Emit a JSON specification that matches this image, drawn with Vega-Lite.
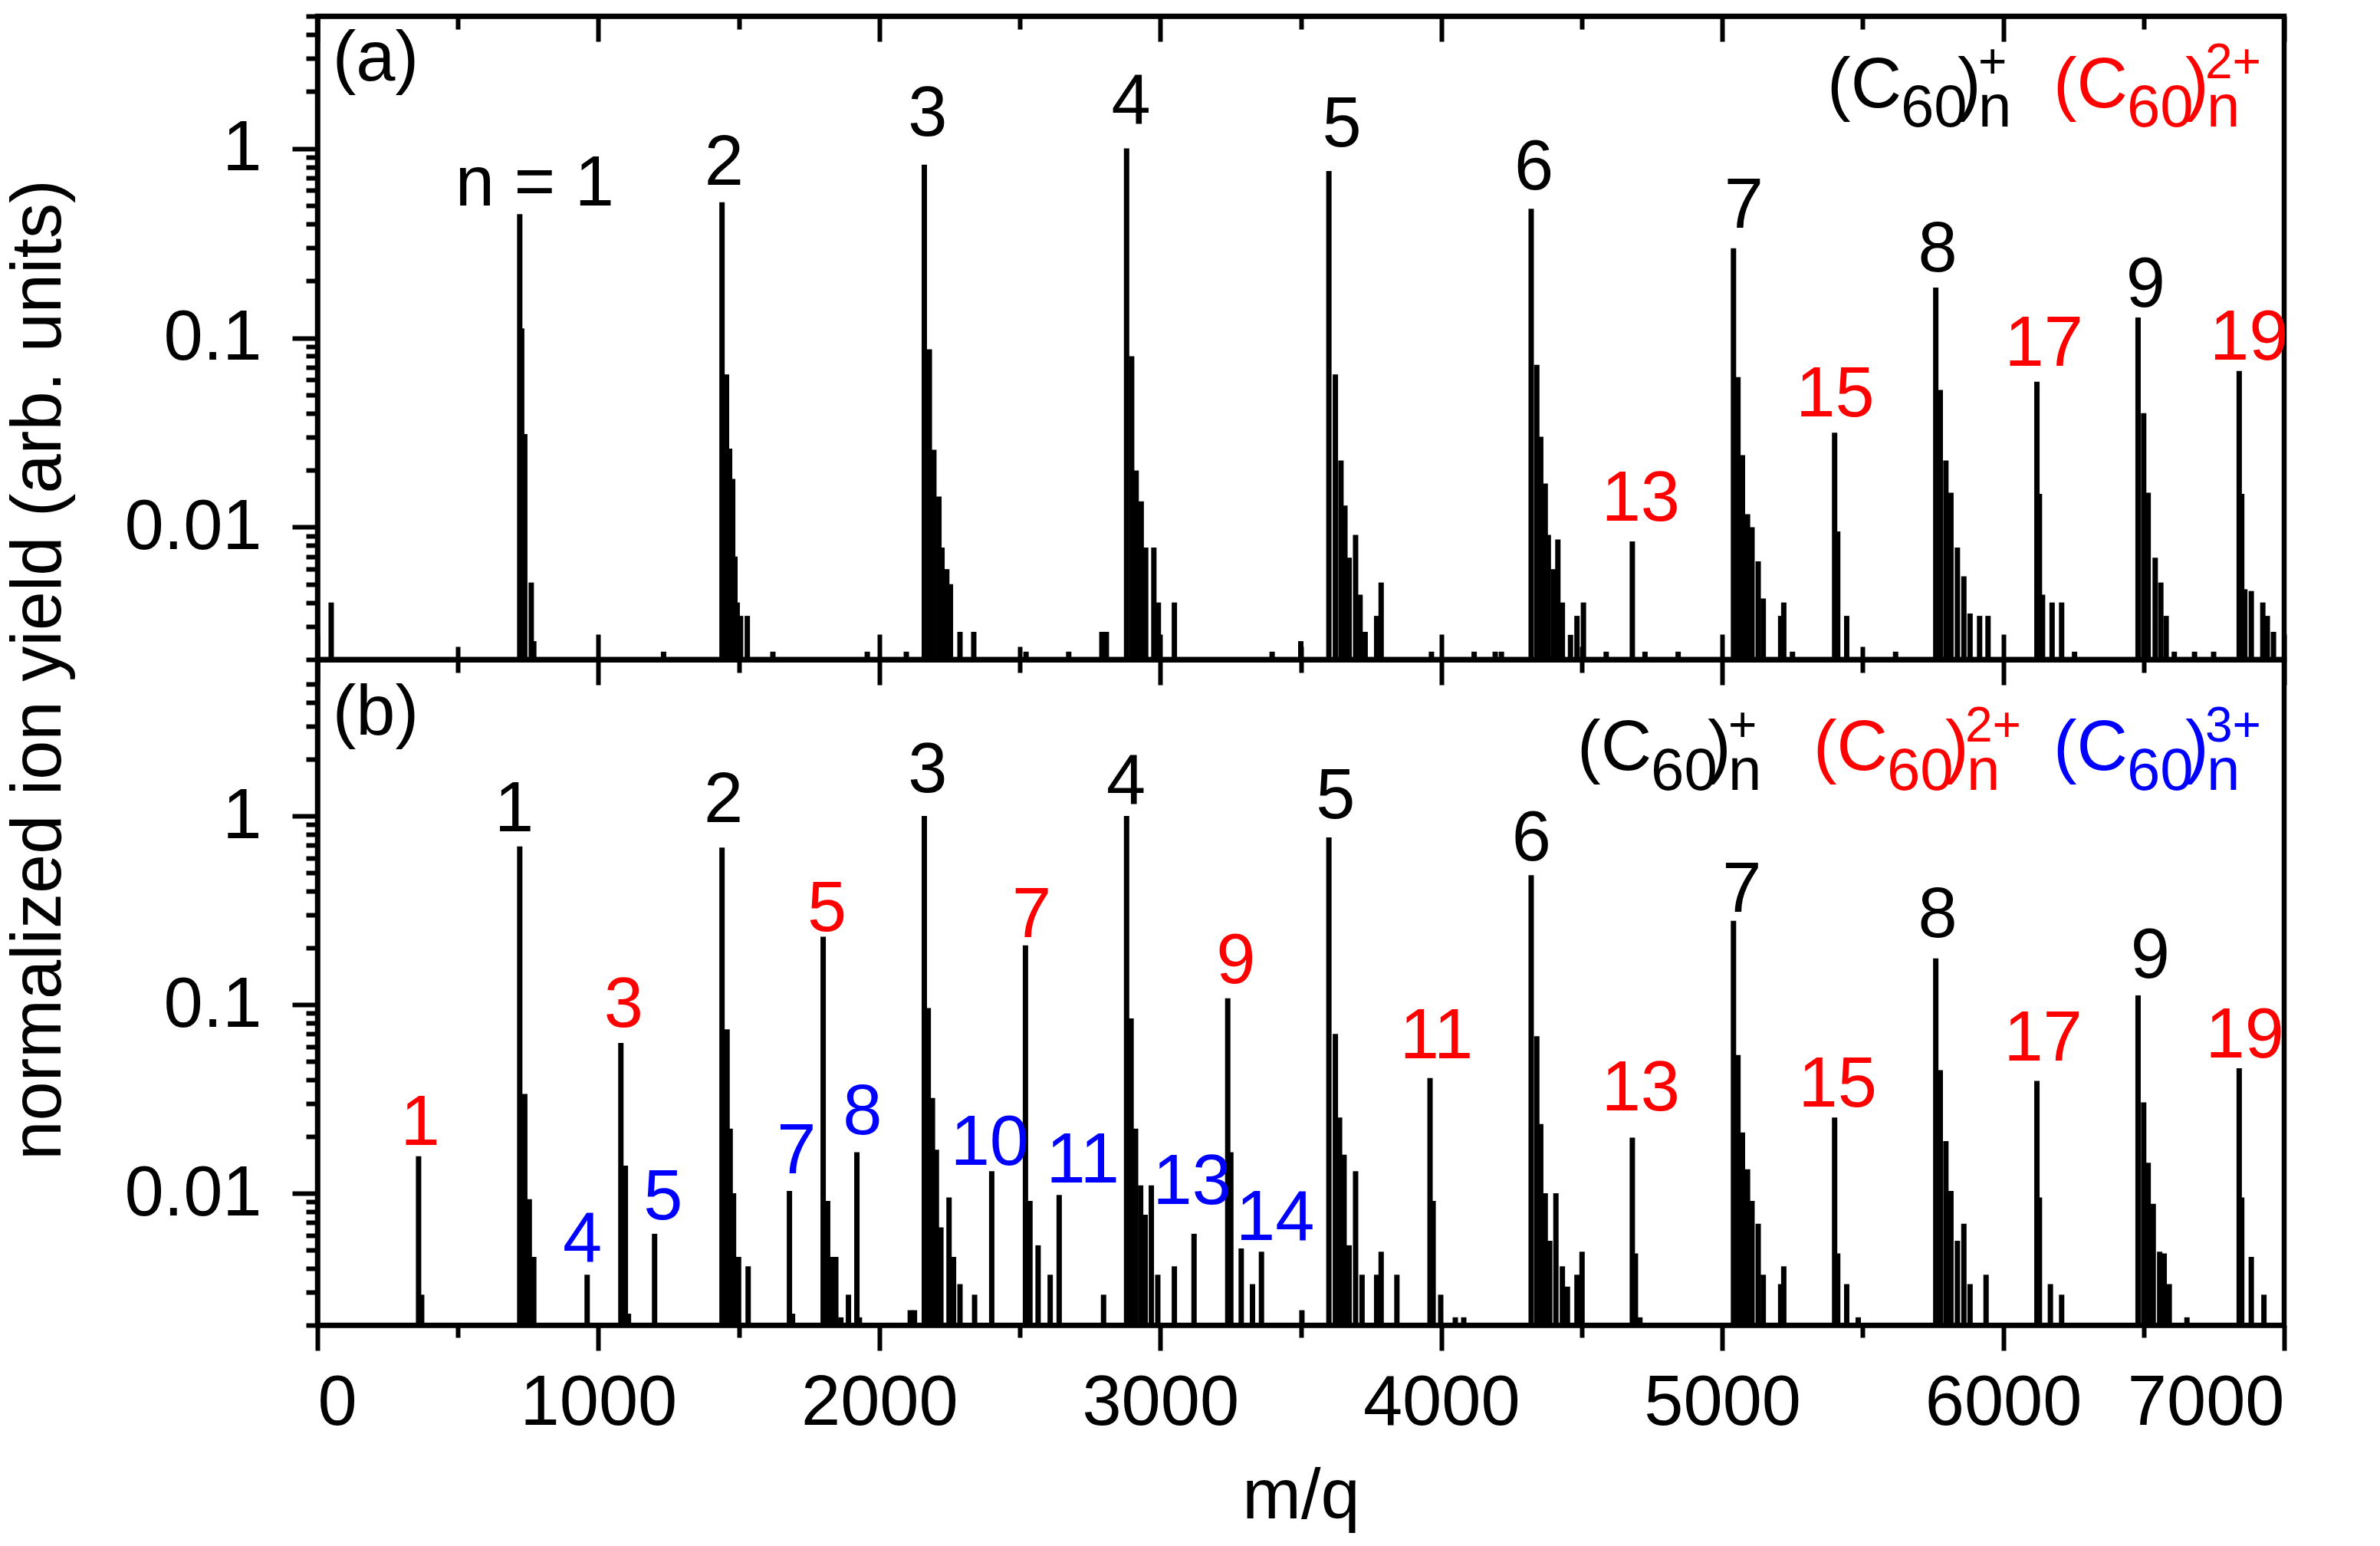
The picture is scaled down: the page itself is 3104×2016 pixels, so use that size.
{
  "$schema": "https://vega.github.io/schema/vega-lite/v6.json",
  "background": "white",
  "padding": {"left": 0, "top": 14, "right": 10, "bottom": 0},
  "spacing": 0,
  "bounds": "flush",
  "config": {
    "font": "Liberation Sans",
    "view": {"stroke": "black", "strokeWidth": 6.5},
    "axis": {
      "grid": false,
      "domainColor": "black",
      "domainWidth": 6.5,
      "tickColor": "black",
      "tickWidth": 6,
      "labelFont": "Liberation Sans",
      "labelFontSize": 92,
      "labelColor": "black",
      "labelLimit": 0,
      "titleFont": "Liberation Sans",
      "titleFontSize": 92,
      "titleFontWeight": "normal",
      "titleColor": "black",
      "titleLimit": 0
    }
  },
  "datasets": {
    "spec_a": [
      {"mz": 49, "y": 0.004},
      {"mz": 720, "y": 0.45}, {"mz": 727, "y": 0.112}, {"mz": 738, "y": 0.031}, {"mz": 761, "y": 0.0051}, {"mz": 770, "y": 0.0025},
      {"mz": 1232, "y": 0.0022},
      {"mz": 1440, "y": 0.52}, {"mz": 1456, "y": 0.064}, {"mz": 1467, "y": 0.026}, {"mz": 1478, "y": 0.018}, {"mz": 1486, "y": 0.007}, {"mz": 1494, "y": 0.004}, {"mz": 1506, "y": 0.0034}, {"mz": 1530, "y": 0.0034}, {"mz": 1621, "y": 0.0022},
      {"mz": 1957, "y": 0.0022}, {"mz": 2096, "y": 0.0022},
      {"mz": 2160, "y": 0.82}, {"mz": 2178, "y": 0.087}, {"mz": 2194, "y": 0.0256}, {"mz": 2212, "y": 0.0145}, {"mz": 2223, "y": 0.0078}, {"mz": 2240, "y": 0.006}, {"mz": 2253, "y": 0.005}, {"mz": 2287, "y": 0.0028}, {"mz": 2336, "y": 0.0028},
      {"mz": 2522, "y": 0.0022}, {"mz": 2674, "y": 0.0022}, {"mz": 2792, "y": 0.0028}, {"mz": 2808, "y": 0.0028},
      {"mz": 2880, "y": 1.0}, {"mz": 2898, "y": 0.08}, {"mz": 2914, "y": 0.0199}, {"mz": 2932, "y": 0.0137}, {"mz": 2948, "y": 0.0078}, {"mz": 2977, "y": 0.0078}, {"mz": 2993, "y": 0.004}, {"mz": 3050, "y": 0.004},
      {"mz": 3398, "y": 0.0022}, {"mz": 3500, "y": 0.0025},
      {"mz": 3600, "y": 0.76}, {"mz": 3623, "y": 0.064}, {"mz": 3643, "y": 0.0225}, {"mz": 3657, "y": 0.013}, {"mz": 3672, "y": 0.0069}, {"mz": 3695, "y": 0.0091}, {"mz": 3711, "y": 0.0044}, {"mz": 3729, "y": 0.0028}, {"mz": 3770, "y": 0.0034}, {"mz": 3786, "y": 0.0051},
      {"mz": 3965, "y": 0.0022}, {"mz": 4117, "y": 0.0022}, {"mz": 4192, "y": 0.0022}, {"mz": 4214, "y": 0.0022},
      {"mz": 4320, "y": 0.48}, {"mz": 4340, "y": 0.072}, {"mz": 4354, "y": 0.03}, {"mz": 4370, "y": 0.017}, {"mz": 4381, "y": 0.0091}, {"mz": 4399, "y": 0.006}, {"mz": 4415, "y": 0.0086}, {"mz": 4431, "y": 0.004}, {"mz": 4460, "y": 0.0027}, {"mz": 4483, "y": 0.0034}, {"mz": 4506, "y": 0.004},
      {"mz": 4587, "y": 0.0022}, {"mz": 4680, "y": 0.0084}, {"mz": 4725, "y": 0.0022}, {"mz": 4843, "y": 0.0022},
      {"mz": 5040, "y": 0.297}, {"mz": 5056, "y": 0.062}, {"mz": 5072, "y": 0.024}, {"mz": 5090, "y": 0.0117}, {"mz": 5106, "y": 0.01}, {"mz": 5128, "y": 0.0066}, {"mz": 5146, "y": 0.0042}, {"mz": 5208, "y": 0.0034}, {"mz": 5219, "y": 0.004}, {"mz": 5250, "y": 0.0022},
      {"mz": 5400, "y": 0.0315}, {"mz": 5411, "y": 0.0095}, {"mz": 5443, "y": 0.0034}, {"mz": 5617, "y": 0.0022},
      {"mz": 5760, "y": 0.184}, {"mz": 5776, "y": 0.053}, {"mz": 5796, "y": 0.0225}, {"mz": 5814, "y": 0.0152}, {"mz": 5837, "y": 0.0078}, {"mz": 5860, "y": 0.0055}, {"mz": 5882, "y": 0.0035}, {"mz": 5916, "y": 0.0034}, {"mz": 5946, "y": 0.0034},
      {"mz": 6120, "y": 0.0587}, {"mz": 6129, "y": 0.015}, {"mz": 6140, "y": 0.0044}, {"mz": 6174, "y": 0.004}, {"mz": 6208, "y": 0.004}, {"mz": 6254, "y": 0.0022},
      {"mz": 6480, "y": 0.128}, {"mz": 6500, "y": 0.04}, {"mz": 6516, "y": 0.0152}, {"mz": 6541, "y": 0.0069}, {"mz": 6561, "y": 0.0051}, {"mz": 6580, "y": 0.0034}, {"mz": 6609, "y": 0.0022}, {"mz": 6681, "y": 0.0022}, {"mz": 6749, "y": 0.0022},
      {"mz": 6840, "y": 0.0668}, {"mz": 6849, "y": 0.015}, {"mz": 6860, "y": 0.0047}, {"mz": 6883, "y": 0.0046}, {"mz": 6924, "y": 0.004}, {"mz": 6940, "y": 0.0034}, {"mz": 6962, "y": 0.0028}
    ],
    "spec_b": [
      {"mz": 360, "y": 0.0157}, {"mz": 371, "y": 0.0029},
      {"mz": 720, "y": 0.69}, {"mz": 738, "y": 0.0336}, {"mz": 754, "y": 0.0093}, {"mz": 770, "y": 0.0046},
      {"mz": 960, "y": 0.0037},
      {"mz": 1080, "y": 0.0626}, {"mz": 1096, "y": 0.014}, {"mz": 1107, "y": 0.0023},
      {"mz": 1200, "y": 0.0061},
      {"mz": 1440, "y": 0.68}, {"mz": 1458, "y": 0.074}, {"mz": 1469, "y": 0.022}, {"mz": 1481, "y": 0.01}, {"mz": 1499, "y": 0.0046}, {"mz": 1533, "y": 0.0041},
      {"mz": 1680, "y": 0.0103}, {"mz": 1691, "y": 0.0023},
      {"mz": 1800, "y": 0.229}, {"mz": 1816, "y": 0.0091}, {"mz": 1829, "y": 0.0046}, {"mz": 1845, "y": 0.0046}, {"mz": 1863, "y": 0.0022}, {"mz": 1890, "y": 0.0029},
      {"mz": 1920, "y": 0.0165}, {"mz": 1929, "y": 0.0022},
      {"mz": 2110, "y": 0.0024}, {"mz": 2125, "y": 0.0024},
      {"mz": 2160, "y": 1.0}, {"mz": 2174, "y": 0.096}, {"mz": 2189, "y": 0.032}, {"mz": 2203, "y": 0.017}, {"mz": 2219, "y": 0.0066}, {"mz": 2248, "y": 0.0095}, {"mz": 2264, "y": 0.0046}, {"mz": 2287, "y": 0.0033}, {"mz": 2339, "y": 0.0029},
      {"mz": 2400, "y": 0.0131},
      {"mz": 2520, "y": 0.206}, {"mz": 2536, "y": 0.0091}, {"mz": 2565, "y": 0.0053}, {"mz": 2608, "y": 0.0037},
      {"mz": 2640, "y": 0.0098},
      {"mz": 2798, "y": 0.0029},
      {"mz": 2880, "y": 1.0}, {"mz": 2896, "y": 0.0845}, {"mz": 2912, "y": 0.022}, {"mz": 2930, "y": 0.011}, {"mz": 2946, "y": 0.0077}, {"mz": 2968, "y": 0.011}, {"mz": 2991, "y": 0.0037}, {"mz": 3050, "y": 0.0041},
      {"mz": 3120, "y": 0.0061},
      {"mz": 3240, "y": 0.108}, {"mz": 3251, "y": 0.0165}, {"mz": 3288, "y": 0.0051}, {"mz": 3328, "y": 0.0033},
      {"mz": 3360, "y": 0.0049},
      {"mz": 3504, "y": 0.0024},
      {"mz": 3600, "y": 0.77}, {"mz": 3623, "y": 0.07}, {"mz": 3638, "y": 0.0252}, {"mz": 3654, "y": 0.016}, {"mz": 3672, "y": 0.0053}, {"mz": 3695, "y": 0.0131}, {"mz": 3718, "y": 0.0037}, {"mz": 3770, "y": 0.0037}, {"mz": 3786, "y": 0.0049}, {"mz": 3842, "y": 0.0037},
      {"mz": 3960, "y": 0.0408}, {"mz": 3971, "y": 0.0091}, {"mz": 3998, "y": 0.0029}, {"mz": 4050, "y": 0.0022}, {"mz": 4080, "y": 0.0022},
      {"mz": 4320, "y": 0.485}, {"mz": 4340, "y": 0.068}, {"mz": 4354, "y": 0.0233}, {"mz": 4370, "y": 0.01}, {"mz": 4386, "y": 0.0056}, {"mz": 4408, "y": 0.01}, {"mz": 4431, "y": 0.0041}, {"mz": 4449, "y": 0.0032}, {"mz": 4483, "y": 0.0037}, {"mz": 4501, "y": 0.0049},
      {"mz": 4680, "y": 0.0197}, {"mz": 4691, "y": 0.0048}, {"mz": 4707, "y": 0.0022},
      {"mz": 5040, "y": 0.278}, {"mz": 5056, "y": 0.054}, {"mz": 5072, "y": 0.021}, {"mz": 5090, "y": 0.0134}, {"mz": 5106, "y": 0.0091}, {"mz": 5128, "y": 0.0069}, {"mz": 5146, "y": 0.0037}, {"mz": 5208, "y": 0.0033}, {"mz": 5219, "y": 0.0041},
      {"mz": 5400, "y": 0.0252}, {"mz": 5411, "y": 0.0048}, {"mz": 5443, "y": 0.0033}, {"mz": 5484, "y": 0.0022},
      {"mz": 5760, "y": 0.176}, {"mz": 5776, "y": 0.0449}, {"mz": 5796, "y": 0.0189}, {"mz": 5814, "y": 0.0103}, {"mz": 5837, "y": 0.0056}, {"mz": 5860, "y": 0.0069}, {"mz": 5882, "y": 0.0033}, {"mz": 5939, "y": 0.0037},
      {"mz": 6120, "y": 0.0394}, {"mz": 6129, "y": 0.0095}, {"mz": 6168, "y": 0.0033}, {"mz": 6208, "y": 0.0029},
      {"mz": 6480, "y": 0.112}, {"mz": 6500, "y": 0.0303}, {"mz": 6516, "y": 0.0145}, {"mz": 6534, "y": 0.0088}, {"mz": 6557, "y": 0.0049}, {"mz": 6573, "y": 0.0048}, {"mz": 6591, "y": 0.0033}, {"mz": 6654, "y": 0.0022},
      {"mz": 6840, "y": 0.046}, {"mz": 6849, "y": 0.0095}, {"mz": 6883, "y": 0.0046}, {"mz": 6928, "y": 0.0029}
    ],
    "ann_a": [
      {"mz": 207, "y": 2.293, "t": "(a)", "charge": "1"},
      {"mz": 773, "y": 0.50, "t": "n = 1", "charge": "1"},
      {"mz": 1447, "y": 0.64, "t": "2", "charge": "1"},
      {"mz": 2172, "y": 1.164, "t": "3", "charge": "1"},
      {"mz": 2896, "y": 1.36, "t": "4", "charge": "1"},
      {"mz": 3646, "y": 1.02, "t": "5", "charge": "1"},
      {"mz": 4330, "y": 0.608, "t": "6", "charge": "1"},
      {"mz": 4710, "y": 0.01084, "t": "13", "charge": "2"},
      {"mz": 5077, "y": 0.381, "t": "7", "charge": "1"},
      {"mz": 5402, "y": 0.0384, "t": "15", "charge": "2"},
      {"mz": 5767, "y": 0.2243, "t": "8", "charge": "1"},
      {"mz": 6145, "y": 0.0711, "t": "17", "charge": "2"},
      {"mz": 6507, "y": 0.1457, "t": "9", "charge": "1"},
      {"mz": 6875, "y": 0.0769, "t": "19", "charge": "2"}
    ],
    "ann_b": [
      {"mz": 207, "y": 2.702, "t": "(b)", "charge": "1"},
      {"mz": 366, "y": 0.01808, "t": "1", "charge": "2"},
      {"mz": 700, "y": 0.8286, "t": "1", "charge": "1"},
      {"mz": 943, "y": 0.004335, "t": "4", "charge": "3"},
      {"mz": 1090, "y": 0.0759, "t": "3", "charge": "2"},
      {"mz": 1230, "y": 0.00726, "t": "5", "charge": "3"},
      {"mz": 1445, "y": 0.93, "t": "2", "charge": "1"},
      {"mz": 1705, "y": 0.01272, "t": "7", "charge": "3"},
      {"mz": 1814, "y": 0.245, "t": "5", "charge": "2"},
      {"mz": 1940, "y": 0.02064, "t": "8", "charge": "3"},
      {"mz": 2172, "y": 1.343, "t": "3", "charge": "1"},
      {"mz": 2393, "y": 0.01413, "t": "10", "charge": "3"},
      {"mz": 2542, "y": 0.2288, "t": "7", "charge": "2"},
      {"mz": 2724, "y": 0.01145, "t": "11", "charge": "3"},
      {"mz": 2878, "y": 1.166, "t": "4", "charge": "1"},
      {"mz": 3113, "y": 0.00881, "t": "13", "charge": "3"},
      {"mz": 3269, "y": 0.1303, "t": "9", "charge": "2"},
      {"mz": 3409, "y": 0.00563, "t": "14", "charge": "3"},
      {"mz": 3624, "y": 0.97, "t": "5", "charge": "1"},
      {"mz": 3983, "y": 0.052, "t": "11", "charge": "2"},
      {"mz": 4321, "y": 0.579, "t": "6", "charge": "1"},
      {"mz": 4710, "y": 0.02753, "t": "13", "charge": "2"},
      {"mz": 5070, "y": 0.3104, "t": "7", "charge": "1"},
      {"mz": 5411, "y": 0.0287, "t": "15", "charge": "2"},
      {"mz": 5767, "y": 0.2288, "t": "8", "charge": "1"},
      {"mz": 6142, "y": 0.0506, "t": "17", "charge": "2"},
      {"mz": 6523, "y": 0.139, "t": "9", "charge": "1"},
      {"mz": 6860, "y": 0.0526, "t": "19", "charge": "2"}
    ],
    "leg_a": [
      {"mz": 5373.5, "y": 1.649, "t": "(C", "charge": "1", "role": "main"},
      {"mz": 5635.4, "y": 1.3, "t": "60", "charge": "1", "role": "sub"},
      {"mz": 5837.4, "y": 1.649, "t": ")", "charge": "1", "role": "main"},
      {"mz": 5911.1, "y": 1.3, "t": "n", "charge": "1", "role": "sub"},
      {"mz": 5911.1, "y": 2.344, "t": "+", "charge": "1", "role": "sup"},
      {"mz": 6178.5, "y": 1.649, "t": "(C", "charge": "2", "role": "main"},
      {"mz": 6440.5, "y": 1.3, "t": "60", "charge": "2", "role": "sub"},
      {"mz": 6648.1, "y": 1.649, "t": ")", "charge": "2", "role": "main"},
      {"mz": 6724.3, "y": 1.3, "t": "n", "charge": "2", "role": "sub"},
      {"mz": 6718.9, "y": 2.344, "t": "2+", "charge": "2", "role": "sup"}
    ],
    "leg_b": [
      {"mz": 4483.8, "y": 1.746, "t": "(C", "charge": "1", "role": "main"},
      {"mz": 4745.8, "y": 1.381, "t": "60", "charge": "1", "role": "sub"},
      {"mz": 4947.7, "y": 1.746, "t": ")", "charge": "1", "role": "main"},
      {"mz": 5021.4, "y": 1.381, "t": "n", "charge": "1", "role": "sub"},
      {"mz": 5021.4, "y": 2.48, "t": "+", "charge": "1", "role": "sup"},
      {"mz": 5324.3, "y": 1.746, "t": "(C", "charge": "2", "role": "main"},
      {"mz": 5586.3, "y": 1.381, "t": "60", "charge": "2", "role": "sub"},
      {"mz": 5793.7, "y": 1.746, "t": ")", "charge": "2", "role": "main"},
      {"mz": 5870.1, "y": 1.381, "t": "n", "charge": "2", "role": "sub"},
      {"mz": 5864.7, "y": 2.48, "t": "2+", "charge": "2", "role": "sup"},
      {"mz": 6178.5, "y": 1.746, "t": "(C", "charge": "3", "role": "main"},
      {"mz": 6440.5, "y": 1.381, "t": "60", "charge": "3", "role": "sub"},
      {"mz": 6648.1, "y": 1.746, "t": ")", "charge": "3", "role": "main"},
      {"mz": 6724.3, "y": 1.381, "t": "n", "charge": "3", "role": "sub"},
      {"mz": 6718.9, "y": 2.48, "t": "3+", "charge": "3", "role": "sup"}
    ]
  },
  "vconcat": [
    {
      "width": 2565,
      "height": 839,
      "resolve": {"axis": {"x": "independent"}},
      "layer": [
        {
          "data": {"name": "spec_a"},
          "mark": {"type": "rule", "color": "black", "strokeWidth": 7, "clip": true},
          "encoding": {
            "x": {
              "field": "mz", "type": "quantitative",
              "scale": {"domain": [0, 7000], "nice": false, "zero": false},
              "axis": {
                "orient": "bottom", "title": null, "labels": false,
                "values": [0, 500, 1000, 1500, 2000, 2500, 3000, 3500, 4000, 4500, 5000, 5500, 6000, 6500, 7000],
                "tickSize": {"condition": {"test": "datum.value % 1000 === 0", "value": -33}, "value": -17}
              }
            },
            "y": {
              "field": "y", "type": "quantitative",
              "title": "normalized ion yield (arb. units)",
              "scale": {"type": "log", "domain": [0.002, 5], "nice": false},
              "axis": {
                "orient": "left",
                "values": [0.002, 0.003, 0.004, 0.005, 0.006, 0.007, 0.008, 0.009, 0.01, 0.02, 0.03, 0.04, 0.05, 0.06, 0.07, 0.08, 0.09, 0.1, 0.2, 0.3, 0.4, 0.5, 0.6, 0.7, 0.8, 0.9, 1, 2, 3, 4, 5],
                "labelExpr": "datum.value === 1 ? '1' : datum.value === 0.1 ? '0.1' : datum.value === 0.01 ? '0.01' : ''",
                "tickSize": {"condition": {"test": "datum.value === 1 || datum.value === 0.1 || datum.value === 0.01", "value": 33}, "value": 15},
                "labelPadding": 40,
                "labelAlign": "right",
                "labelBaseline": "middle",
                "titleAngle": 270,
                "titleX": -336,
                "titleY": 852,
                "titleAlign": "center",
                "titleBaseline": "alphabetic"
              }
            },
            "y2": {"datum": 0.002}
          }
        },
        {
          "data": {"name": "ann_a"},
          "mark": {"type": "text", "fontSize": 92, "align": "center", "baseline": "alphabetic", "font": "Liberation Sans"},
          "encoding": {
            "x": {
              "field": "mz", "type": "quantitative",
              "axis": {
                "orient": "top", "title": null, "labels": false,
                "values": [0, 500, 1000, 1500, 2000, 2500, 3000, 3500, 4000, 4500, 5000, 5500, 6000, 6500, 7000],
                "tickSize": {"condition": {"test": "datum.value % 1000 === 0", "value": -33}, "value": -17}
              }
            },
            "y": {"field": "y", "type": "quantitative", "title": "normalized ion yield (arb. units)"},
            "text": {"field": "t"},
            "color": {"field": "charge", "type": "nominal", "scale": {"domain": ["1", "2", "3"], "range": ["#000000", "#ff0000", "#0000ff"]}, "legend": null}
          }
        },
        {
          "data": {"name": "leg_a"},
          "mark": {"type": "text", "align": "left", "baseline": "alphabetic", "font": "Liberation Sans"},
          "encoding": {
            "x": {
              "field": "mz", "type": "quantitative",
              "axis": {"orient": "top", "title": null, "labels": false, "ticks": false, "domain": false}
            },
            "y": {"field": "y", "type": "quantitative", "title": "normalized ion yield (arb. units)"},
            "text": {"field": "t"},
            "size": {"field": "role", "type": "nominal", "scale": {"domain": ["main", "sub", "sup"], "range": [92, 64, 64]}, "legend": null},
            "color": {"field": "charge", "type": "nominal", "scale": {"domain": ["1", "2", "3"], "range": ["#000000", "#ff0000", "#0000ff"]}, "legend": null}
          }
        }
      ]
    },
    {
      "width": 2565,
      "height": 868,
      "resolve": {"axis": {"x": "independent"}},
      "layer": [
        {
          "data": {"name": "spec_b"},
          "mark": {"type": "rule", "color": "black", "strokeWidth": 7, "clip": true},
          "encoding": {
            "x": {
              "field": "mz", "type": "quantitative",
              "title": "m/q",
              "scale": {"domain": [0, 7000], "nice": false, "zero": false},
              "axis": {
                "orient": "bottom",
                "values": [0, 500, 1000, 1500, 2000, 2500, 3000, 3500, 4000, 4500, 5000, 5500, 6000, 6500, 7000],
                "labelExpr": "datum.value % 1000 === 0 ? format(datum.value, 'd') : ''",
                "tickSize": {"condition": {"test": "datum.value % 1000 === 0", "value": 33}, "value": 16},
                "labelBaseline": "alphabetic",
                "labelPadding": 96,
                "titleY": 251,
                "titleBaseline": "alphabetic"
              }
            },
            "y": {
              "field": "y", "type": "quantitative",
              "title": null,
              "scale": {"type": "log", "domain": [0.002, 6.75], "nice": false},
              "axis": {
                "orient": "left",
                "values": [0.002, 0.003, 0.004, 0.005, 0.006, 0.007, 0.008, 0.009, 0.01, 0.02, 0.03, 0.04, 0.05, 0.06, 0.07, 0.08, 0.09, 0.1, 0.2, 0.3, 0.4, 0.5, 0.6, 0.7, 0.8, 0.9, 1, 2, 3, 4, 5],
                "labelExpr": "datum.value === 1 ? '1' : datum.value === 0.1 ? '0.1' : datum.value === 0.01 ? '0.01' : ''",
                "tickSize": {"condition": {"test": "datum.value === 1 || datum.value === 0.1 || datum.value === 0.01", "value": 33}, "value": 15},
                "labelPadding": 40,
                "labelAlign": "right",
                "labelBaseline": "middle"
              }
            },
            "y2": {"datum": 0.002}
          }
        },
        {
          "data": {"name": "ann_b"},
          "mark": {"type": "text", "fontSize": 92, "align": "center", "baseline": "alphabetic", "font": "Liberation Sans"},
          "encoding": {
            "x": {
              "field": "mz", "type": "quantitative",
              "axis": {
                "orient": "top", "title": null, "labels": false,
                "values": [0, 500, 1000, 1500, 2000, 2500, 3000, 3500, 4000, 4500, 5000, 5500, 6000, 6500, 7000],
                "tickSize": {"condition": {"test": "datum.value % 1000 === 0", "value": -33}, "value": -17}
              }
            },
            "y": {"field": "y", "type": "quantitative", "title": null},
            "text": {"field": "t"},
            "color": {"field": "charge", "type": "nominal", "scale": {"domain": ["1", "2", "3"], "range": ["#000000", "#ff0000", "#0000ff"]}, "legend": null}
          }
        },
        {
          "data": {"name": "leg_b"},
          "mark": {"type": "text", "align": "left", "baseline": "alphabetic", "font": "Liberation Sans"},
          "encoding": {
            "x": {
              "field": "mz", "type": "quantitative",
              "axis": {"orient": "top", "title": null, "labels": false, "ticks": false, "domain": false}
            },
            "y": {"field": "y", "type": "quantitative", "title": null},
            "text": {"field": "t"},
            "size": {"field": "role", "type": "nominal", "scale": {"domain": ["main", "sub", "sup"], "range": [92, 64, 64]}, "legend": null},
            "color": {"field": "charge", "type": "nominal", "scale": {"domain": ["1", "2", "3"], "range": ["#000000", "#ff0000", "#0000ff"]}, "legend": null}
          }
        }
      ]
    }
  ]
}
